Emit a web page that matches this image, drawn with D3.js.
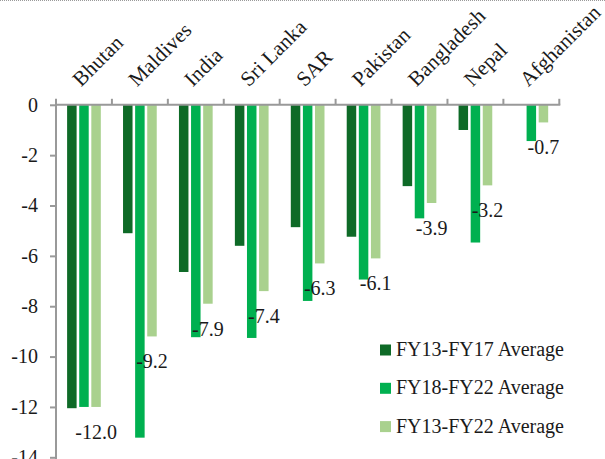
<!DOCTYPE html>
<html>
<head>
<meta charset="utf-8">
<script src="https://cdn.jsdelivr.net/npm/d3@7"></script>
<style>
  html, body { margin: 0; padding: 0; background: #fff; }
  svg { display: block; }
  text { font-family: "Liberation Serif", "Times New Roman", serif; fill: #1a1a1a; }
</style>
</head>
<body>
<svg id="chart" width="605" height="459"></svg>
<script>
const categories = ["Bhutan","Maldives","India","Sri Lanka","SAR","Pakistan","Bangladesh","Nepal","Afghanistan"];
const seriesNames = ["FY13-FY17 Average","FY18-FY22 Average","FY13-FY22 Average"];
const fy13_17 = [-12.05, -5.1, -6.64, -5.6, -4.86, -5.24, -3.23, -1.0, null];
const fy18_22 = [-12.0, -13.22, -9.23, -9.26, -7.79, -6.94, -4.51, -5.47, -1.44];
const fy13_22 = [-12.0, -9.2, -7.9, -7.4, -6.3, -6.1, -3.9, -3.2, -0.7];
const yTicks = [0, -2, -4, -6, -8, -10, -12, -14];
const colors = ["#0e6a27", "#00b050", "#a9d18e"];

const seriesValues = [fy13_17, fy18_22, fy13_22];
const svg = d3.select("#chart");

const fmt = d3.formatLocale({decimal: ".", thousands: ",", grouping: [3], currency: ["", ""], minus: "-"});
const labelFmt = fmt.format(".1f");
const tickFmt = fmt.format("d");

// top dotted border
svg.append("line").attr("x1", 0).attr("x2", 605).attr("y1", 0.5).attr("y2", 0.5)
  .attr("stroke", "#9a9a9a").attr("stroke-dasharray", "1,1");

const x0 = d3.scaleBand().domain(categories).range([56, 559.3]).paddingInner(0).paddingOuter(0);
const groupW = 33.7;
const x1 = d3.scaleBand().domain(seriesNames).range([0, groupW]).paddingInner(0.215).paddingOuter(0);
const y = d3.scaleLinear().domain([-14, 0]).range([457.3, 104.8]);

// bars
const groups = svg.append("g").selectAll("g").data(categories).join("g")
  .attr("transform", d => `translate(${x0(d) + (x0.bandwidth() - groupW) / 2},0)`);

groups.selectAll("rect")
  .data((c, i) => seriesNames.map((s, k) => ({s, k, v: seriesValues[k][i]})).filter(d => d.v !== null))
  .join("rect")
  .attr("x", d => x1(d.s))
  .attr("width", x1.bandwidth())
  .attr("y", d => y(0))
  .attr("height", d => y(d.v) - y(0))
  .attr("fill", d => colors[d.k]);

// data labels (FY13-FY22 series)
groups.append("text")
  .datum((c, i) => fy13_22[i])
  .attr("x", x1(seriesNames[2]) + x1.bandwidth() / 2)
  .attr("y", d => y(d) + 32)
  .attr("text-anchor", "middle")
  .attr("font-size", 20)
  .text(d => labelFmt(d));

// Y axis
const yAxis = svg.append("g").attr("transform", "translate(56,0)")
  .call(d3.axisLeft(y).tickValues(yTicks).tickFormat(tickFmt).tickSize(6).tickPadding(12));
yAxis.select(".domain").attr("stroke", "#999").attr("stroke-width", 2).attr("d", `M0,${y(0)}V${y(-14) + 2}`);
yAxis.selectAll(".tick line").attr("stroke", "#999").attr("stroke-width", 2);
yAxis.selectAll(".tick text").attr("font-size", 20).attr("fill", "#1a1a1a")
  .attr("font-family", '"Liberation Serif", serif');

// X axis line at zero with upward boundary ticks
const xAxis = svg.append("g").attr("transform", `translate(0,${y(0)})`);
xAxis.append("line").attr("x1", 55).attr("x2", 560.3).attr("y1", 0).attr("y2", 0)
  .attr("stroke", "#999").attr("stroke-width", 2);
const boundaries = categories.map(c => x0(c)).concat([x0(categories[categories.length - 1]) + x0.bandwidth()]);
xAxis.selectAll("line.tk").data(boundaries).join("line").attr("class", "tk")
  .attr("x1", d => d).attr("x2", d => d).attr("y1", 0).attr("y2", -6)
  .attr("stroke", "#999").attr("stroke-width", 2);

// category labels rotated
svg.append("g").selectAll("text").data(categories).join("text")
  .attr("transform", d => `translate(${x0(d) + x0.bandwidth() / 2 - 3},87.5) rotate(-45)`)
  .attr("text-anchor", "start")
  .attr("font-size", 21)
  .attr("letter-spacing", 0.15)
  .text(d => d);

// legend
const legend = svg.append("g").selectAll("g").data(seriesNames).join("g")
  .attr("transform", (d, i) => `translate(380,${356 + i * 38.3})`);
legend.append("rect").attr("x", 0).attr("y", -11.5).attr("width", 11).attr("height", 11)
  .attr("fill", (d, i) => colors[i]);
legend.append("text").attr("x", 16).attr("y", 0).attr("font-size", 20).text(d => d);
</script>
</body>
</html>
